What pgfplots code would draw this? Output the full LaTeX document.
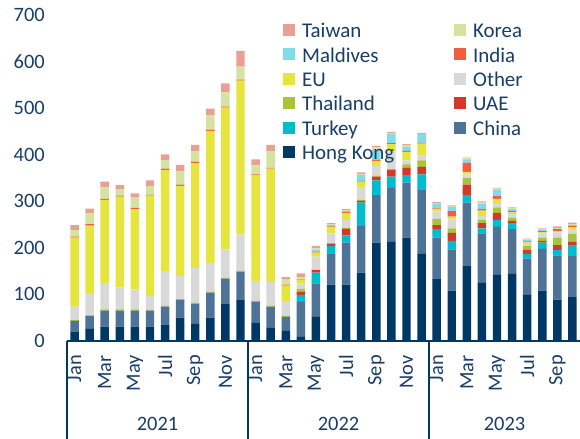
\documentclass[border=0pt]{standalone}
\usepackage{pgfplots}
\pgfplotsset{compat=1.18}
\usepackage{pgfplotstable}
\usepackage{fontspec}
\setmainfont{Carlito}
\definecolor{cHK}{RGB}{0,56,101}
\definecolor{cCN}{RGB}{78,115,150}
\definecolor{cTR}{RGB}{0,188,208}
\definecolor{cAE}{RGB}{211,57,42}
\definecolor{cTH}{RGB}{168,196,58}
\definecolor{cOT}{RGB}{217,217,217}
\definecolor{cEU}{RGB}{229,229,62}
\definecolor{cIN}{RGB}{242,92,63}
\definecolor{cMV}{RGB}{128,220,232}
\definecolor{cKR}{RGB}{213,227,160}
\definecolor{cTW}{RGB}{234,159,149}
\definecolor{txt}{RGB}{24,62,104}

\pgfplotstableread{
x  HK  CN  TR AE TH OT  EU  IN MV KR TW
0  19  24  0  0  2  29  148 2  0  14 11
1  26  28  0  0  1  48  145 3  0  24 9
2  31  34  0  0  3  57  178 2  0  25 12
3  31  34  0  0  3  47  195 2  0  14 9
4  31  34  0  0  3  43  172 3  0  22 9
5  31  34  0  0  2  30  215 2  0  19 12
6  34  40  0  0  2  74  217 3  0  18 13
7  50  38  0  0  2  50  193 3  0  28 14
8  38  42  0  0  2  75  225 3  0  23 13
9  50  54  0  0  2  62  283 3  0  31 14
10 79  55  0  0  2  61  304 2  0  31 19
11 88  61  0  0  2  78  330 2  0  28 34
12 39  45  0  0  2  43  227 2  0  19 13
13 29  45  0  0  2  51  243 2  0  36 13
14 22  30  0  0  2  32  33  2  0  11 5
15 9   75  15 7  6  12  8   1  0  4  8
16 52  72  23 5  1  28  9   2  4  3  5
17 121 67  16 4  2  21  13  2  3  2  2
18 121 90  16 14 2  17  15  2  2  2  2
19 147 100 50 4  2  28  11  2  12 3  3
20 211 102 32 8  2  21  11  2  23 4  3
21 213 116 24 14 2  39  15  2  19 3  2
22 222 118 16 16 7  9   18  2  9  4  2
23 187 137 34 16 14 10  26  2  18 1  2
24 133 89  18 9  13 16  5   2  10 1  2
25 108 89  18 17 10 19  6   12 9  1  2
26 161 136 16 23 14 8   5   20 7  2  2
27 125 106 11 11 7  8   12  3  11 3  3
28 142 103 15 15 12 7   11  6  13 3  2
29 145 95  13 5  7  8   3   3  4  2  2
30 99  78  10 8  9  4   4   2  3  1  2
31 108 90  13 4  7  9   2   3  2  2  2
32 89  95  11 11 16 11  3   4  1  2  3
33 94  88  24 7  17 10  4   3  2  2  3
}\data

\newcommand{\lf}{\fontsize{20.5}{24.6}\selectfont}
\newcommand{\lgf}{\fontsize{21}{24.6}\selectfont}
\newcommand{\legtxt}[1]{\makebox[150bp][l]{\strut #1}}

\begin{document}
\begin{tikzpicture}
\useasboundingbox (-67bp,-98bp) rectangle (513bp,341bp);
\begin{axis}[
  at={(0,0)}, anchor=south west,
  scale only axis, width=513bp, height=326bp,
  ybar stacked, bar width=0.56,
  xmin=-0.5, xmax=33.5, ymin=0, ymax=700,
  ytick={0,100,...,700},
  xtick={0,2,...,32},
  xticklabels={Jan,Mar,May,Jul,Sep,Nov,Jan,Mar,May,Jul,Sep,Nov,Jan,Mar,May,Jul,Sep},
  axis x line*=bottom, axis y line*=left,
  x axis line style={draw=cHK, line width=1.5bp, -},
  y axis line style={draw=none},
  major tick length=0pt,
  tick style={draw=none},
  clip=false,
  /pgf/number format/assume math mode=true,
  tick label style={font=\lf, text=txt},
  yticklabel style={anchor=east, inner sep=0pt, xshift=-22bp},
  xticklabel style={inner sep=0pt, yshift=-14bp, rotate=90, anchor=east},
  reverse legend,
  legend columns=2,
  legend cell align=left,
  legend style={at={(0.421,0.99)}, anchor=north west, draw=none, fill=none,
    font=\lgf, text=txt, inner sep=0pt, row sep=1.8bp,
    /tikz/every odd column/.style={column sep=5bp}},
  sq/.style={legend image code/.code={\fill[##1,draw=none] (0bp,-6bp) rectangle (12bp,6bp);}},
]
\addplot[fill=cHK, draw=none, sq] table[x=x,y=HK]{\data}; \addlegendentry{\legtxt{Hong Kong}}
\addplot[fill=cCN, draw=none, sq] table[x=x,y=CN]{\data}; \addlegendentry{\legtxt{China}}
\addplot[fill=cTR, draw=none, sq] table[x=x,y=TR]{\data}; \addlegendentry{\legtxt{Turkey}}
\addplot[fill=cAE, draw=none, sq] table[x=x,y=AE]{\data}; \addlegendentry{\legtxt{UAE}}
\addplot[fill=cTH, draw=none, sq] table[x=x,y=TH]{\data}; \addlegendentry{\legtxt{Thailand}}
\addplot[fill=cOT, draw=none, sq] table[x=x,y=OT]{\data}; \addlegendentry{\legtxt{Other}}
\addplot[fill=cEU, draw=none, sq] table[x=x,y=EU]{\data}; \addlegendentry{\legtxt{EU}}
\addplot[fill=cIN, draw=none, sq] table[x=x,y=IN]{\data}; \addlegendentry{\legtxt{India}}
\addplot[fill=cMV, draw=none, sq] table[x=x,y=MV]{\data}; \addlegendentry{\legtxt{Maldives}}
\addplot[fill=cKR, draw=none, sq] table[x=x,y=KR]{\data}; \addlegendentry{\legtxt{Korea}}
\addplot[fill=cTW, draw=none, sq] table[x=x,y=TW]{\data}; \addlegendentry{\legtxt{Taiwan}}
\draw[cHK, line width=1.5bp] (axis cs:-0.5,0) -- ([yshift=-98bp]axis cs:-0.5,0);
\draw[cHK, line width=1.5bp] (axis cs:11.5,0) -- ([yshift=-98bp]axis cs:11.5,0);
\draw[cHK, line width=1.5bp] (axis cs:23.5,0) -- ([yshift=-98bp]axis cs:23.5,0);
\node[font=\lf, text=txt] at ([yshift=-83bp]axis cs:5.5,0) {2021};
\node[font=\lf, text=txt] at ([yshift=-83bp]axis cs:17.5,0) {2022};
\node[font=\lf, text=txt] at ([yshift=-83bp]axis cs:28.5,0) {2023};
\end{axis}
\end{tikzpicture}
\end{document}
